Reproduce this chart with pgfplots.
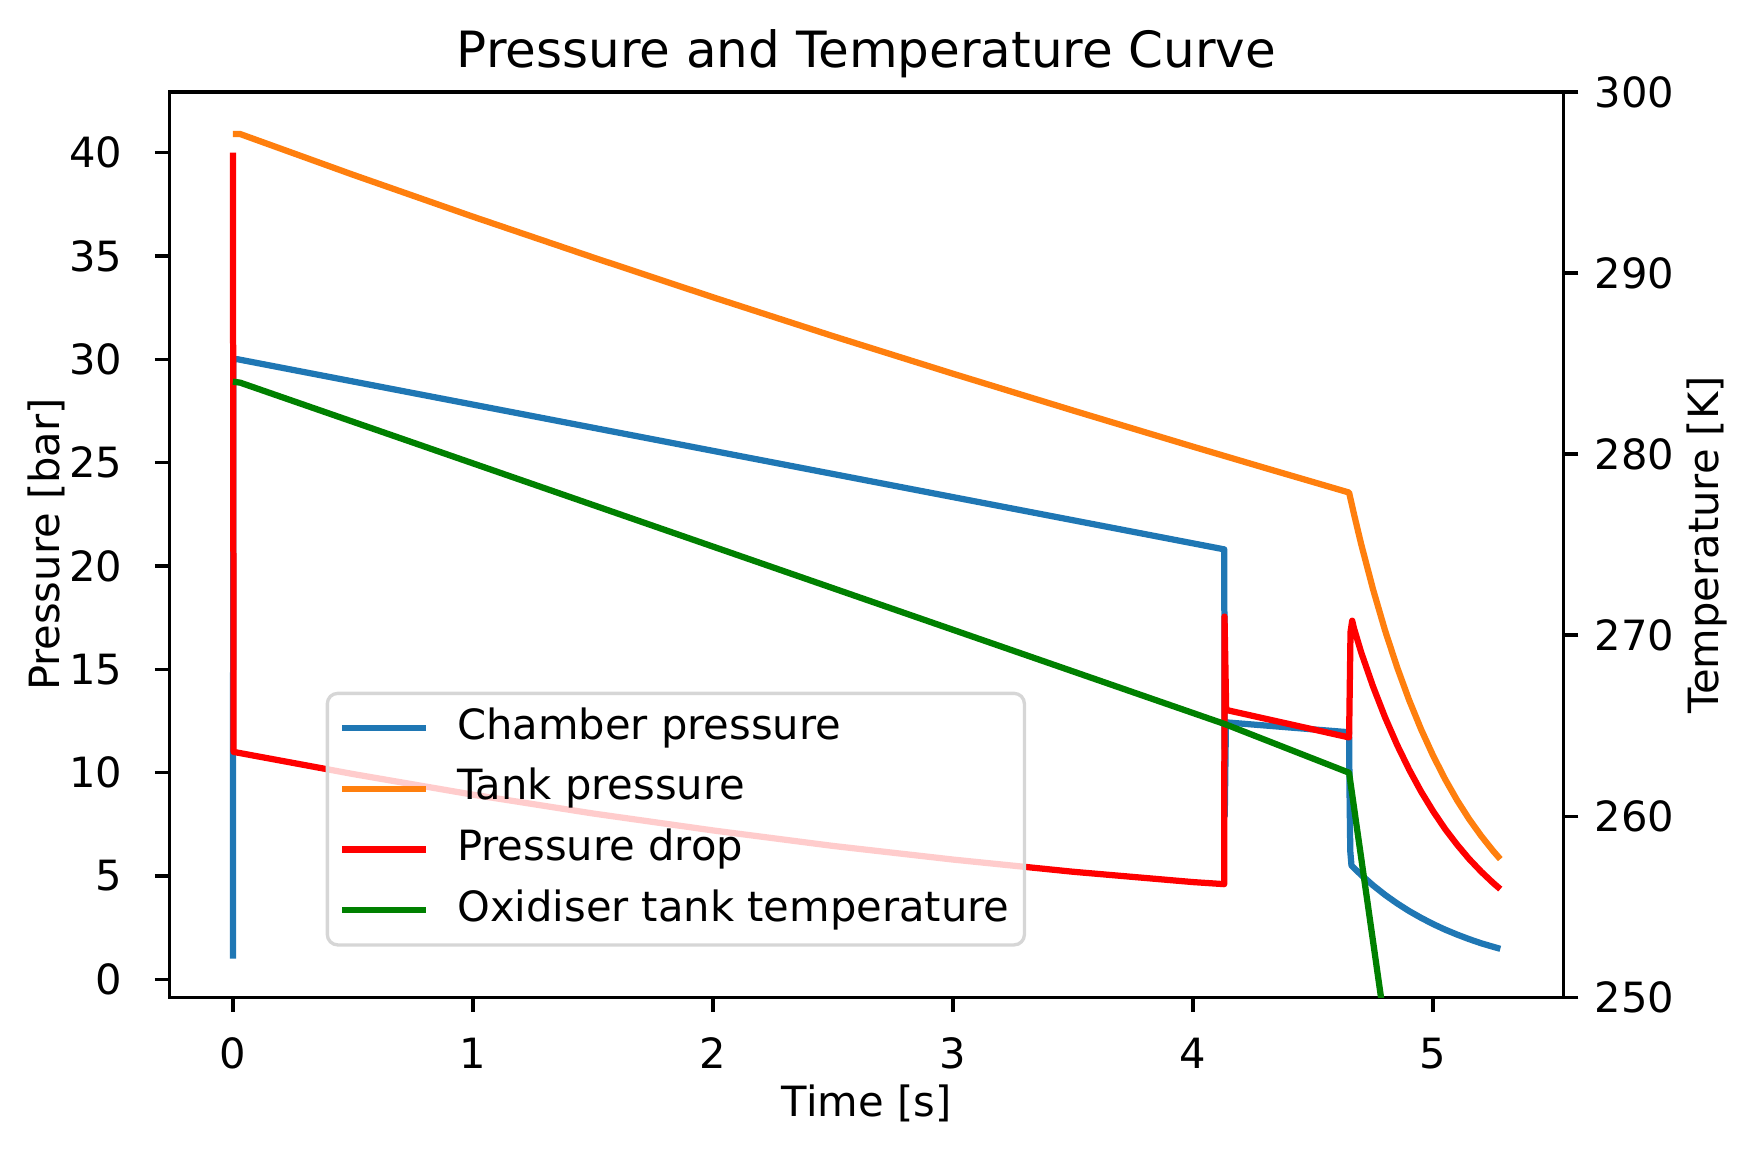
\documentclass[border=0pt]{standalone}
\usepackage{fontspec}
\setmainfont{DejaVu Sans}
\usepackage{pgfplots}
\pgfplotsset{compat=1.18}

\definecolor{cblue}{HTML}{1F77B4}
\definecolor{corange}{HTML}{FF7F0E}
\definecolor{cred}{HTML}{FF0000}
\definecolor{cgreen}{HTML}{008000}
\definecolor{frameedge}{HTML}{D6D6D6}

\pgfplotsset{
  twin/.style={
    scale only axis,
    width=334.7pt, height=217.3pt,
    xmin=-0.264, xmax=5.544,
    /pgf/number format/assume math mode=true,
    tick align=outside,
    major tick length=3.5pt,
    major tick style={line width=0.8pt, black},
    axis line style={line width=0.8pt},
    tick label style={font=\fontsize{10}{12}\selectfont},
    label style={font=\fontsize{10}{12}\selectfont},
  },
  curve/.style={line width=1.5pt, line join=round, mark=none},
}

\begin{document}
\begin{tikzpicture}[font=\fontsize{10}{12}\selectfont]
\path[use as bounding box] (-40.7pt,-37.6pt) rectangle (381.6pt,239.4pt);

% pressures on the left axis
\begin{axis}[
  twin,
  ymin=-0.87, ymax=42.93,
  xtick={0,1,2,3,4,5},
  ytick={0,5,10,15,20,25,30,35,40},
  xtick pos=left, ytick pos=left,
  xticklabel style={anchor=base, inner sep=0pt, yshift=-13.6pt},
  yticklabel style={anchor=east, inner sep=0pt, xshift=-7.7pt},
  xlabel={Time [s]},
  ylabel={Pressure [bar]},
  every axis x label/.style={at={(axis description cs:0.5,0)}, anchor=base, yshift=-28.6pt},
  every axis y label/.style={at={(axis description cs:-0.0786,0.5)}, rotate=90, anchor=base},
  title={Pressure and Temperature Curve},
  every axis title/.style={at={(axis description cs:0.5,1)}, anchor=base, yshift=6pt, font=\fontsize{12}{14.4}\selectfont},
]
% chamber pressure
\addplot[curve, cblue] coordinates {
  (0,1.0) (0.002,30.0) (0.02,30.0) (4.13,20.8) (4.132,7.9) (4.137,12.43)
  (4.65,11.95) (4.652,9.0) (4.655,6.2) (4.66,5.5) (4.70,5.05) (4.75,4.54)
  (4.80,4.08) (4.85,3.67) (4.90,3.30) (4.95,2.97) (5.00,2.67) (5.05,2.40)
  (5.10,2.16) (5.15,1.94) (5.20,1.74) (5.25,1.57) (5.28,1.47)
};
% tank pressure
\addplot[curve, corange] coordinates {
  (0,40.9) (0.03,40.9) (0.5,38.93) (1,36.90) (1.5,34.93) (2,33.00) (2.5,31.12)
  (3,29.30) (3.5,27.52) (4,25.77) (4.3,24.74) (4.65,23.55) (4.67,22.53)
  (4.70,21.07) (4.75,18.86) (4.80,16.87) (4.85,15.10) (4.90,13.51)
  (4.95,12.09) (5.00,10.82) (5.05,9.68) (5.10,8.66) (5.15,7.75) (5.20,6.94)
  (5.25,6.21) (5.28,5.81)
};
% pressure drop
\addplot[curve, cred] coordinates {
  (0,40.0) (0.003,11.0) (0.5,9.93) (1,8.93) (1.5,8.02) (2,7.20) (2.5,6.45)
  (3,5.79) (3.5,5.20) (4,4.70) (4.13,4.60) (4.131,17.55) (4.138,13.03)
  (4.65,11.7) (4.656,16.8) (4.663,17.35) (4.67,17.0) (4.70,15.83) (4.75,14.16)
  (4.80,12.67) (4.85,11.34) (4.90,10.15) (4.95,9.08) (5.00,8.13) (5.05,7.27)
  (5.10,6.51) (5.15,5.82) (5.20,5.21) (5.25,4.66) (5.28,4.36)
};
\end{axis}

% temperature on the right axis
\begin{axis}[
  twin,
  ymin=250, ymax=300,
  ytick={250,260,270,280,290,300},
  axis y line*=right, axis x line=none,
  yticklabel style={anchor=west, inner sep=0pt, xshift=3.7pt},
  ylabel={Temperature [K]},
  every axis y label/.style={at={(axis description cs:1.1108,0.5)}, rotate=90, anchor=base},
  legend cell align=left,
  legend image code/.code={\draw[#1, line cap=rect] (0.75pt,0pt) -- (19.25pt,0pt);},
  legend style={
    at={(axis description cs:0.112,0.0559)}, anchor=south west,
    draw=frameedge, line width=0.8pt, rounded corners=2.5pt,
    fill=white, fill opacity=0.8, text opacity=1,
    inner xsep=3.6pt, inner ysep=3.2pt,
    row sep=4.4pt,
    nodes={inner sep=0pt, text height=7.8pt, text depth=2.4pt},
    /tikz/every odd column/.append style={column sep=7.6pt},
  },
]
\addlegendimage{curve, cblue}
\addlegendentry{Chamber pressure}
\addlegendimage{curve, corange}
\addlegendentry{Tank pressure}
\addlegendimage{curve, cred}
\addlegendentry{Pressure drop}
\addplot[curve, cgreen] coordinates {
  (0,284.0) (0.03,283.95) (4.13,265.1) (4.65,262.4) (4.80,248.4)
};
\addlegendentry{Oxidiser tank temperature}
\end{axis}
\end{tikzpicture}
\end{document}
